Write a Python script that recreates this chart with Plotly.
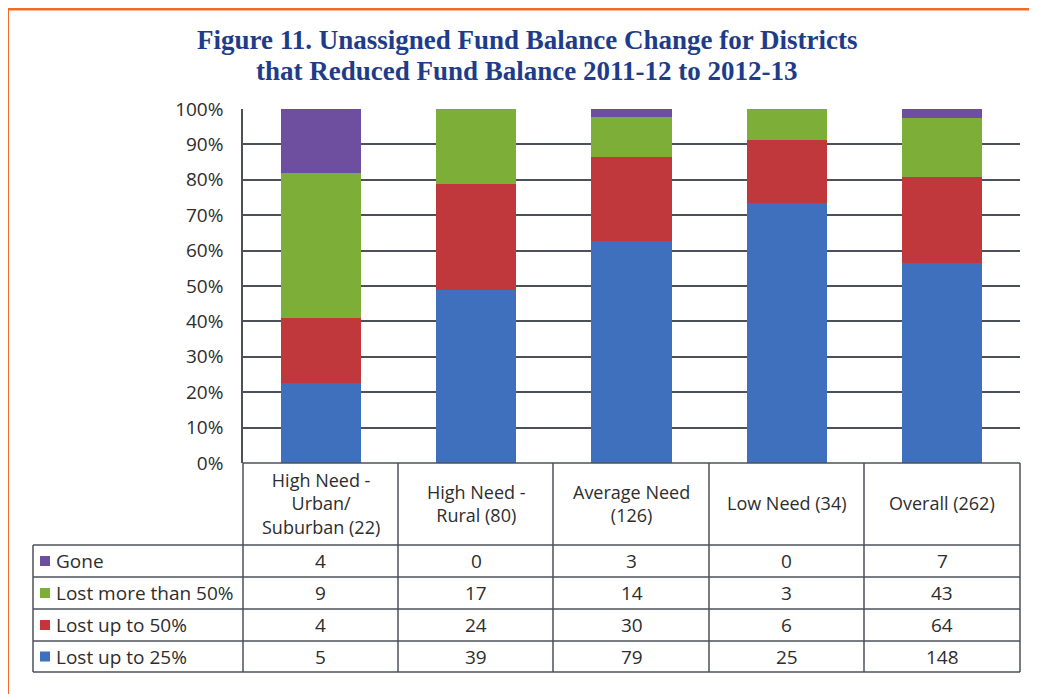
import plotly.graph_objects as go

categories = ["High Need - Urban/ Suburban (22)", "High Need - Rural (80)",
              "Average Need (126)", "Low Need (34)", "Overall (262)"]
header_labels = ["High Need -<br>Urban/<br>Suburban (22)", "High Need -<br>Rural (80)",
                 "Average Need<br>(126)", "Low Need (34)", "Overall (262)"]
series_names = ["Lost up to 25%", "Lost up to 50%", "Lost more than 50%", "Gone"]
lost_25 = [5, 39, 79, 25, 148]
lost_50 = [4, 24, 30, 6, 64]
lost_more_50 = [9, 17, 14, 3, 43]
gone = [4, 0, 3, 0, 7]
series_values = [lost_25, lost_50, lost_more_50, gone]
colors = ["#3E70BE", "#C0373C", "#7CAE38", "#6E4E9E"]
y_ticks = [0, 10, 20, 30, 40, 50, 60, 70, 80, 90, 100]
y_tick_labels = [f"{v}%" for v in y_ticks]
title_lines = ["Figure 11. Unassigned Fund Balance Change for Districts",
               "that Reduced Fund Balance 2011-12 to 2012-13"]

W, H = 1037, 694
OFF = 8  # page body margin
FONT = "'Open Sans', Lato, sans-serif"
TXT = "#2d2d2d"
GRID = "#4c5058"

def px(x):
    return (x - OFF) / W

def py(y):
    return 1 - (y - OFF) / H

fig = go.Figure()
for name, vals, col in zip(series_names, series_values, colors):
    fig.add_trace(go.Bar(x=categories, y=vals, name=name, marker=dict(color=col, line=dict(width=0)),
                         showlegend=False, hoverinfo="skip"))

shapes = []
# orange frame
shapes.append(dict(type="line", xref="paper", yref="paper", x0=px(6), x1=1.02, y0=py(9), y1=py(9),
                   line=dict(color="#F06A28", width=3)))
shapes.append(dict(type="line", xref="paper", yref="paper", x0=px(7.5), x1=px(7.5), y0=py(7.5), y1=-0.02,
                   line=dict(color="#F06A28", width=3)))

# table lines
col_edges = [243, 398, 553, 709, 864, 1020]
row_edges = [545, 577, 609, 641, 672]
tl = dict(color=GRID, width=1.5)
shapes.append(dict(type="line", xref="paper", yref="paper", x0=px(243), x1=px(1020), y0=py(463), y1=py(463), line=tl))
for ry in row_edges:
    shapes.append(dict(type="line", xref="paper", yref="paper", x0=px(33), x1=px(1020), y0=py(ry), y1=py(ry), line=tl))
for cx in col_edges:
    shapes.append(dict(type="line", xref="paper", yref="paper", x0=px(cx), x1=px(cx), y0=py(463), y1=py(672), line=tl))
shapes.append(dict(type="line", xref="paper", yref="paper", x0=px(33), x1=px(33), y0=py(545), y1=py(672), line=tl))

annotations = []
# title
for line, ty in zip(title_lines, [40, 71]):
    annotations.append(dict(text=f"<b>{line}</b>", xref="paper", yref="paper", x=px(527), y=py(ty),
                            xanchor="center", yanchor="middle", showarrow=False,
                            font=dict(family="'Liberation Serif', 'DejaVu Serif', serif", size=27, color="#1E3C8A")))
# header labels
for cat, lab in zip(categories, header_labels):
    annotations.append(dict(text=lab, xref="x", yref="paper", x=cat, y=py(503), xanchor="center", yanchor="middle",
                            showarrow=False, align="center", font=dict(family=FONT, size=18, color=TXT)))
# rows (top to bottom: Gone, Lost more than 50%, Lost up to 50%, Lost up to 25%)
order = [3, 2, 1, 0]
row_mids = [(row_edges[i] + row_edges[i + 1]) / 2 for i in range(4)]
for r, si in enumerate(order):
    ymid = row_mids[r]
    shapes.append(dict(type="rect", xref="paper", yref="paper", x0=px(40), x1=px(50),
                       y0=py(ymid - 5), y1=py(ymid + 5), fillcolor=colors[si], line=dict(width=0)))
    annotations.append(dict(text=series_names[si], xref="paper", yref="paper", x=px(54), y=py(ymid),
                            xanchor="left", yanchor="middle", showarrow=False,
                            font=dict(family=FONT, size=19, color=TXT)))
    for cat, v in zip(categories, series_values[si]):
        annotations.append(dict(text=str(v), xref="x", yref="paper", x=cat, y=py(ymid), xanchor="center",
                                yanchor="middle", showarrow=False, font=dict(family=FONT, size=19, color=TXT)))

fig.update_layout(
    width=W, height=H,
    margin=dict(l=0, r=0, t=0, b=0, pad=0),
    paper_bgcolor="white", plot_bgcolor="white",
    barmode="stack", barnorm="percent", bargap=0.485,
    xaxis=dict(domain=[px(243), px(1020)], showticklabels=False, ticks="", showgrid=False,
               zeroline=False, showline=False, fixedrange=True, automargin=False),
    yaxis=dict(domain=[py(463), py(109)], range=[0, 100], tickvals=y_ticks, ticktext=y_tick_labels,
               showgrid=True, gridcolor=GRID, gridwidth=2, zeroline=False,
               showline=True, linecolor=GRID, linewidth=1.5, ticks="", ticklabelstandoff=14,
               tickfont=dict(family=FONT, size=19, color=TXT), fixedrange=True, automargin=False),
    shapes=shapes, annotations=annotations,
    font=dict(family=FONT),
)
fig.write_html("out.html")
